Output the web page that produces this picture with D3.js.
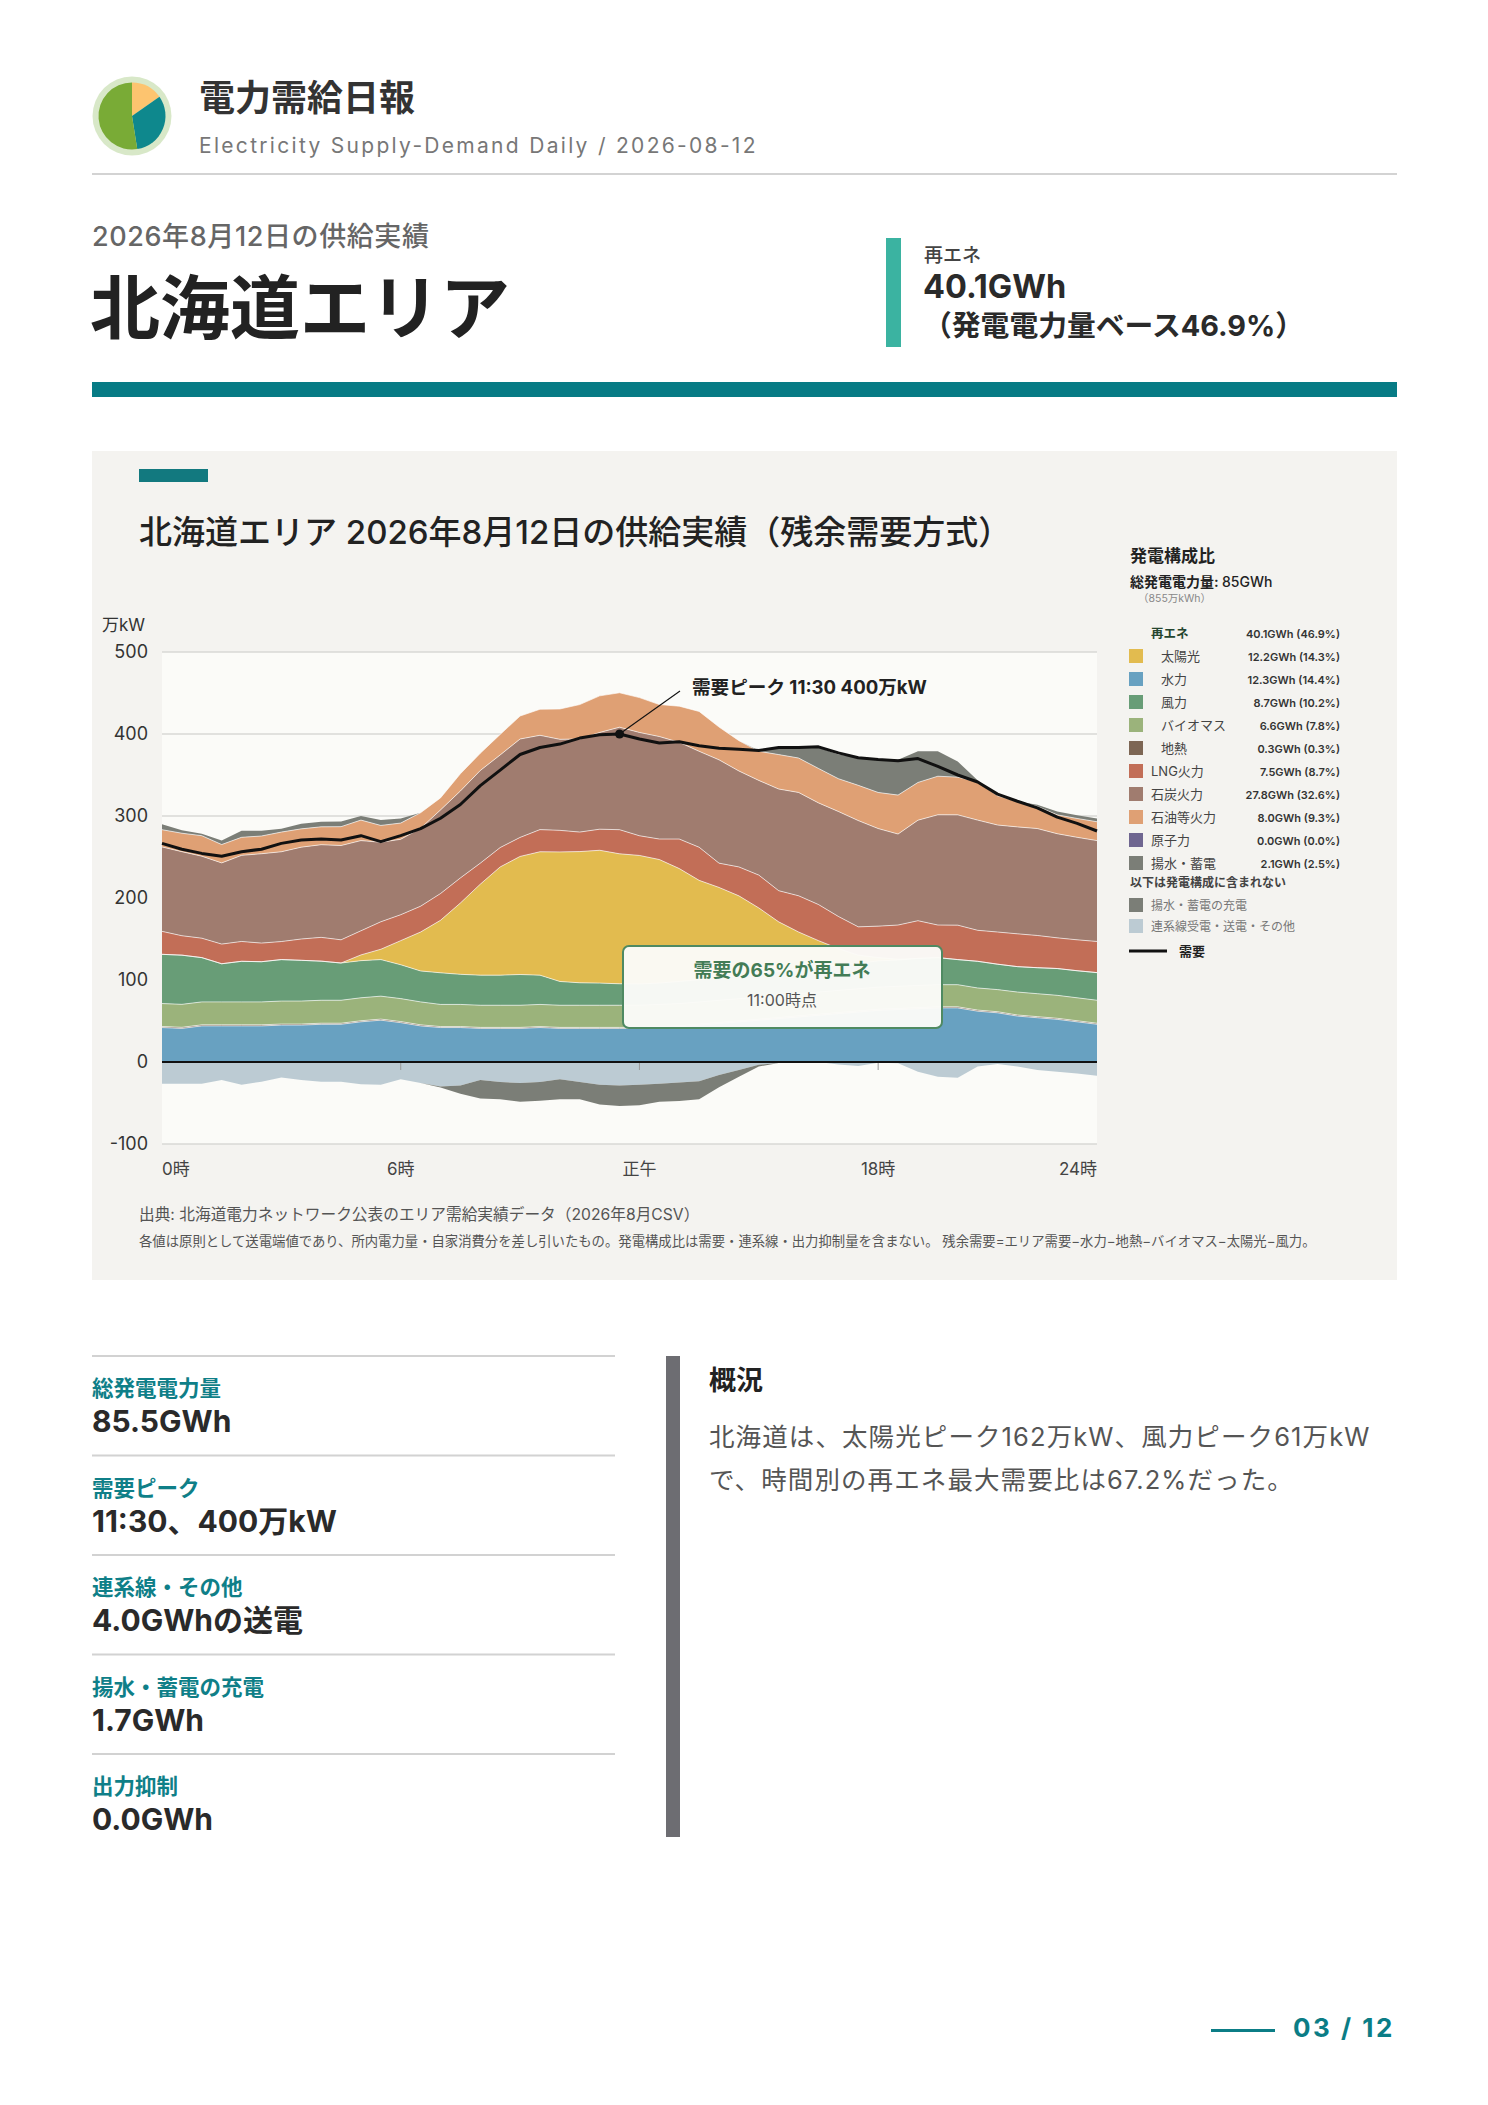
<!DOCTYPE html>
<html><head><meta charset="utf-8">
<script src="https://cdn.jsdelivr.net/npm/d3@7"></script>
<style>
body{margin:0;background:#fff}
svg{display:block}
text{font-family:Inter,"Noto Sans CJK JP","Noto Sans",sans-serif}
</style>
</head><body>
<svg id="c" width="1488" height="2105"></svg>
<script>
// ---------- DATA ----------
const times = ["0:00","0:30","1:00","1:30","2:00","2:30","3:00","3:30","4:00","4:30","5:00","5:30",
"6:00","6:30","7:00","7:30","8:00","8:30","9:00","9:30","10:00","10:30","11:00","11:30",
"12:00","12:30","13:00","13:30","14:00","14:30","15:00","15:30","16:00","16:30","17:00","17:30",
"18:00","18:30","19:00","19:30","20:00","20:30","21:00","21:30","22:00","22:30","23:00","23:30"];

const hydro = [42,41,44,44,44,44,45,45,46,46,49,51,48,44,42,42,41,41,41,42,41,41,41,41,
41,42,43,45,47,49,51,53,55,57,59,61,63,64,65,66,66,62,60,56,54,52,49,46];
const geothermal = [1.3,1.3,1.3,1.3,1.3,1.3,1.3,1.3,1.3,1.3,1.3,1.3,1.3,1.3,1.2,1.2,1.2,1.2,1.2,1.2,1.2,1.2,1.2,1.2,
1.2,1.2,1.2,1.2,1.2,1.2,1.2,1.2,1.3,1.3,1.3,1.3,1.3,1.3,1.3,1.3,1.3,1.3,1.3,1.3,1.3,1.3,1.3,1.3];
const biomass = [28,28,28,28,28,28,28,28,28,28,28,28,28,28,27,27,27,27,27,27,27,27,27,27,
27,27,27,27,27,27,27,27,27,27,27,27,27,27,27,27,27,27,27,28,28,28,28,28];
const wind = [60,60,54,46.5,49.5,49,50.6,49.7,47.7,45.4,45.3,44.6,41.3,37.7,38.6,36.7,36.7,36.7,37.5,35.7,29,27.4,27,26.2,
26,26,27,27,28,28,29,29,30,30,31,31,32,32,33,33,30.6,32.5,31,31,31.7,32.7,33,33.7];
const solar = [0,0,0,0,0,0,0,0,0,0,7,12.6,29.4,47.5,64,87,111,132,144,150.5,158,160,162,158.5,
156.7,150.7,137.7,121.3,109.7,97.4,79.7,60.7,45.2,32.7,20,10,4,1,0,0,0,0,0,0,0,0,0,0];
const lng = [28,23.7,23.7,24,24.2,22.7,22,26,29,28.3,29.4,33.5,31.6,31.5,32.6,30.6,25.6,23.6,23.2,27,26.3,23.8,25.7,29.4,
24,25,36,40.4,29.6,35.3,40,38,44.2,44,39.2,34.5,38.4,41.7,46,39.7,42,37.8,39.2,40,39.3,37.4,37.7,38];
const coal = [103,102.5,100,99,105,109,109.5,112,113,115,110,97,92,95,102,106,113,113,120,115,111,113.5,118,125,
126,125,118,117,126,117,115.5,124,126,124,128,129.6,119,111,122.6,134.5,134.5,134.4,130.5,130.4,130.4,127,125,123];
const oil = [21,22.5,25,22.4,22,21.6,24,22.3,21.8,23,25,20.5,19.8,19,14.7,21,21,25,28,31.8,37,42,44.6,42,
42.5,39,44,48.6,40,37,35.5,42,42,42,40,43,44,47.5,46,47,46,46.5,35.6,31,27,23,23,23];
const nuclear = [0,0,0,0,0,0,0,0,0,0,0,0,0,0,0,0,0,0,0,0,0,0,0,0,
0,0,0,0,0,0,0,0,0,0,0,0,0,0,0,0,0,0,0,0,0,0,0,0];
const pumpedGen = [6.6,3.5,2.5,5,8,6.5,4,6.3,6.3,6.3,5,6.5,5.5,0,0,0,0,0,0,0,0,0,0,0,
0,0,0,0,0,0,1,8.5,12.6,25.6,29.4,34,40,43,38,30.4,19,2,0,0,2,4,4,4];
const interconnect = [26.5,26.5,26.5,22,27.8,24,19,22,24,24,27,27.8,21,25.6,30,28.6,22,24.4,25.6,24.4,21,24.4,27.8,28.6,
27.8,26.5,25,23.5,16,9.7,3.4,1.3,0,0,3,5,1,1.5,11.8,18,19.3,5.5,2.5,5.5,9.7,11.8,13.9,16.8];
const pumpedCharge = [0,0,0,0,0,0,0,0,0,0,0,0,0,0,1,10,22.6,21,23,23,24.4,21,24,25,
25,22,22.5,22,14.7,8.3,2,0,0,0,0,0,0,0,0,0,0,0,0,0,0,0,0,0];
const demand = [266.6,259.5,254.4,251,256.5,259.5,266.6,270.8,272,270.8,276,268.7,276,284.7,297.3,314,337,356,375,383.5,387.7,395,399,400,
394,389,390.6,385.6,382.6,381.4,380,383.5,383.5,384.3,377,371,368.8,367.5,370,360.4,350,341.5,326.7,318,310,298.6,291,281.7];

const yTicks = [-100,0,100,200,300,400,500];
const xTickIdx = [0,12,24,36,47];
const xTickLabels = ["0時","6時","正午","18時","24時"];

const legendNames = ["太陽光","水力","風力","バイオマス","地熱","LNG火力","石炭火力","石油等火力","原子力","揚水・蓄電"];
const legendValues = ["12.2GWh (14.3%)","12.3GWh (14.4%)","8.7GWh (10.2%)","6.6GWh (7.8%)","0.3GWh (0.3%)",
"7.5GWh (8.7%)","27.8GWh (32.6%)","8.0GWh (9.3%)","0.0GWh (0.0%)","2.1GWh (2.5%)"];
const legendIndent = [1,1,1,1,1,0,0,0,0,0];
const legendColors = ["#e2bb4f","#68a1c1","#689d77","#9bb37b","#7d6654","#c26e57","#a07c6f","#dfa074","#6f6690","#7b7e77"];
const excludedNames = ["揚水・蓄電の充電","連系線受電・送電・その他"];
const excludedColors = ["#7b7e77","#bccbd3"];

const statLabels = ["総発電電力量","需要ピーク","連系線・その他","揚水・蓄電の充電","出力抑制"];
const statValues = ["85.5GWh","11:30、400万kW","4.0GWhの送電","1.7GWh","0.0GWh"];
const summaryLines = ["北海道は、太陽光ピーク162万kW、風力ピーク61万kW","で、時間別の再エネ最大需要比は67.2%だった。"];
const logoShares = [0.153,0.322,0.525];
const logoColors = ["#fdc46f","#0e888d","#79ab36"];

// ---------- DRAW ----------
const svg = d3.select("#c");
const L = 92, W = 1305;

// Header logo
const logo = svg.append("g").attr("transform","translate(132,116)");
logo.append("circle").attr("r",39.5).attr("fill","#d8e8c8");
const pie = d3.pie().sort(null)(logoShares);
logo.selectAll("path").data(pie).join("path")
  .attr("d", d3.arc().innerRadius(0).outerRadius(33.5))
  .attr("fill",(d,i)=>logoColors[i]);

svg.append("text").attr("x",199).attr("y",111).attr("font-size",36).attr("font-weight",700)
  .attr("fill","#333").text("電力需給日報");
svg.append("text").attr("x",199).attr("y",153).attr("font-size",21).attr("letter-spacing",2.3)
  .attr("fill","#777").text("Electricity Supply-Demand Daily / 2026-08-12");
svg.append("rect").attr("x",L).attr("y",173).attr("width",W).attr("height",2).attr("fill","#d3d3d3");

svg.append("text").attr("x",L).attr("y",246).attr("font-size",27).attr("letter-spacing",0.6)
  .attr("font-weight",500).attr("fill","#666").text("2026年8月12日の供給実績");
svg.append("text").attr("x",90).attr("y",334).attr("font-size",70).attr("font-weight",700)
  .attr("fill","#222").text("北海道エリア");

svg.append("rect").attr("x",886).attr("y",238).attr("width",15).attr("height",109).attr("fill","#3bb3a1");
svg.append("text").attr("x",924).attr("y",262).attr("font-size",19).attr("font-weight",500)
  .attr("fill","#444").text("再エネ");
svg.append("text").attr("x",923).attr("y",298).attr("font-size",32.5).attr("font-weight",700)
  .attr("fill","#2a2a2a").text("40.1GWh");
svg.append("text").attr("x",923).attr("y",336).attr("font-size",28.8).attr("font-weight",700)
  .attr("fill","#2a2a2a").text("（発電電力量ベース46.9%）");

svg.append("rect").attr("x",L).attr("y",382).attr("width",W).attr("height",15).attr("fill","#077b85");

// Chart panel
svg.append("rect").attr("x",L).attr("y",451).attr("width",W).attr("height",829).attr("fill","#f4f3f0");
svg.append("rect").attr("x",139).attr("y",469).attr("width",69).attr("height",13).attr("fill","#12797f");
svg.append("text").attr("x",139).attr("y",544).attr("font-size",33).attr("font-weight",500)
  .attr("fill","#222").text("北海道エリア 2026年8月12日の供給実績（残余需要方式）");

const x = d3.scaleLinear().domain([0, times.length-1]).range([162,1097]);
const y = d3.scaleLinear().domain([-100,500]).range([1144,652]);

svg.append("rect").attr("x",x(0)).attr("y",y(500)).attr("width",x(47)-x(0)).attr("height",y(-100)-y(500))
  .attr("fill","#fbfbf8");
svg.append("g").selectAll("line").data(yTicks).join("line")
  .attr("x1",x(0)).attr("x2",x(47)).attr("y1",d=>y(d)).attr("y2",d=>y(d))
  .attr("stroke","#d9d9d6").attr("stroke-width",1.5);

const posKeys = ["hydro","geothermal","biomass","wind","solar","lng","coal","oil","nuclear","pumpedGen"];
const negKeys = ["interconnect","pumpedCharge"];
const colors = {hydro:"#68a1c1",geothermal:"#7d6654",biomass:"#9bb37b",wind:"#689d77",solar:"#e2bb4f",lng:"#c26e57",
  coal:"#a07c6f",oil:"#dfa074",nuclear:"#6f6690",pumpedGen:"#7b7e77",interconnect:"#bccbd3",pumpedCharge:"#7b7e77"};
const rows = times.map((t,i)=>({i, hydro:hydro[i], geothermal:geothermal[i], biomass:biomass[i], wind:wind[i],
  solar:solar[i], lng:lng[i], coal:coal[i], oil:oil[i], nuclear:nuclear[i], pumpedGen:pumpedGen[i],
  interconnect:-interconnect[i], pumpedCharge:-pumpedCharge[i]}));
const posSeries = d3.stack().keys(posKeys)(rows);
const negSeries = d3.stack().keys(negKeys)(rows);
const area = d3.area().x((d,i)=>x(i)).y0(d=>y(d[0])).y1(d=>y(d[1]));
svg.append("g").selectAll("path").data(negSeries).join("path")
  .attr("d",area).attr("fill",d=>colors[d.key]);
svg.append("g").selectAll("path").data(posSeries).join("path")
  .attr("d",area).attr("fill",d=>colors[d.key]);
const topLine = d3.line().x((d,i)=>x(i)).y(d=>y(d[1]));
svg.append("g").selectAll("path").data(posSeries.slice(0,8)).join("path")
  .attr("d",topLine).attr("fill","none").attr("stroke","#ffffff").attr("stroke-opacity",0.7).attr("stroke-width",0.9);

// zero line & ticks
svg.append("line").attr("x1",x(0)).attr("x2",x(47)).attr("y1",y(0)).attr("y2",y(0))
  .attr("stroke","#111").attr("stroke-width",2.2);
svg.append("g").selectAll("line").data(xTickIdx.slice(1,4)).join("line")
  .attr("x1",d=>x(d)).attr("x2",d=>x(d)).attr("y1",y(0)+1).attr("y2",y(0)+8)
  .attr("stroke","#999").attr("stroke-width",1);

// demand line
svg.append("path").datum(demand)
  .attr("d", d3.line().x((d,i)=>x(i)).y(d=>y(d)))
  .attr("fill","none").attr("stroke","#111").attr("stroke-width",3).attr("stroke-linejoin","round");

// axes labels
svg.append("g").selectAll("text").data(yTicks).join("text")
  .attr("x",148).attr("y",d=>y(d)).attr("dy","0.36em").attr("text-anchor","end")
  .attr("font-size",18).attr("fill","#333").text(d=>d);
svg.append("text").attr("x",102).attr("y",631).attr("font-size",17).attr("fill","#333").text("万kW");
svg.append("g").selectAll("text").data(xTickIdx).join("text")
  .attr("x",d=>x(d)).attr("y",1175)
  .attr("text-anchor",(d,i)=>i===0?"start":(i===xTickIdx.length-1?"end":"middle"))
  .attr("font-size",17).attr("fill","#444").text((d,i)=>xTickLabels[i]);

// peak annotation
const peakI = demand.indexOf(d3.max(demand));
svg.append("line").attr("x1",x(peakI)).attr("y1",y(demand[peakI])).attr("x2",680).attr("y2",691)
  .attr("stroke","#111").attr("stroke-width",1.1);
svg.append("circle").attr("cx",x(peakI)).attr("cy",y(demand[peakI])).attr("r",4.5).attr("fill","#111");
svg.append("text").attr("x",692).attr("y",694).attr("font-size",18.6).attr("font-weight",700)
  .attr("fill","#222").text("需要ピーク 11:30 400万kW");

// renewable share box
svg.append("rect").attr("x",623).attr("y",946).attr("width",319).attr("height",82).attr("rx",6)
  .attr("fill","#fbfbf8").attr("fill-opacity",0.97).attr("stroke","#4f8a62").attr("stroke-width",2);
svg.append("text").attr("x",782).attr("y",977).attr("text-anchor","middle").attr("font-size",19)
  .attr("font-weight",700).attr("fill","#437c56").text("需要の65%が再エネ");
svg.append("text").attr("x",782).attr("y",1006).attr("text-anchor","middle").attr("font-size",16)
  .attr("fill","#555").text("11:00時点");

// legend
const lg = svg.append("g");
lg.append("text").attr("x",1130).attr("y",562).attr("font-size",17).attr("font-weight",700).attr("fill","#222").text("発電構成比");
const tt = lg.append("text").attr("x",1130).attr("y",587).attr("font-size",14).attr("fill","#222");
tt.append("tspan").attr("font-weight",700).text("総発電電力量: ");
tt.append("tspan").attr("font-weight",500).text("85GWh");
lg.append("text").attr("x",1138).attr("y",602).attr("font-size",10.5).attr("fill","#888").text("（855万kWh）");
lg.append("text").attr("x",1151).attr("y",638).attr("font-size",12.5).attr("font-weight",700).attr("fill","#24452f").text("再エネ");
lg.append("text").attr("x",1340).attr("y",638).attr("text-anchor","end").attr("font-size",11).attr("font-weight",600).attr("fill","#333").text("40.1GWh (46.9%)");
const rowY = i => 656 + i*23;
legendNames.forEach((n,i)=>{
  lg.append("rect").attr("x",1129).attr("y",rowY(i)-7).attr("width",14).attr("height",14).attr("fill",legendColors[i]);
  lg.append("text").attr("x",legendIndent[i]?1161:1151).attr("y",rowY(i)+5).attr("font-size",13).attr("fill","#444").text(n);
  lg.append("text").attr("x",1340).attr("y",rowY(i)+4.5).attr("text-anchor","end").attr("font-size",11)
    .attr("font-weight",600).attr("fill","#333").text(legendValues[i]);
});
lg.append("text").attr("x",1130).attr("y",887).attr("font-size",12).attr("font-weight",700).attr("fill","#444").text("以下は発電構成に含まれない");
excludedNames.forEach((n,i)=>{
  const cy = 905 + i*21;
  lg.append("rect").attr("x",1129).attr("y",cy-7).attr("width",14).attr("height",14).attr("fill",excludedColors[i]);
  lg.append("text").attr("x",1151).attr("y",cy+4.5).attr("font-size",12).attr("fill","#777").text(n);
});
lg.append("line").attr("x1",1129).attr("x2",1167).attr("y1",951).attr("y2",951).attr("stroke","#111").attr("stroke-width",3);
lg.append("text").attr("x",1179).attr("y",956).attr("font-size",13).attr("font-weight",700).attr("fill","#222").text("需要");

// source notes
svg.append("text").attr("x",139).attr("y",1220).attr("font-size",15.7).attr("fill","#555")
  .text("出典: 北海道電力ネットワーク公表のエリア需給実績データ（2026年8月CSV）");
svg.append("text").attr("x",139).attr("y",1246).attr("font-size",13.35).attr("fill","#555")
  .text("各値は原則として送電端値であり、所内電力量・自家消費分を差し引いたもの。発電構成比は需要・連系線・出力抑制量を含まない。 残余需要=エリア需要−水力−地熱−バイオマス−太陽光−風力。");

// stats
statLabels.forEach((l,i)=>{
  const top = 1356 + i*99.5;
  svg.append("rect").attr("x",L).attr("y",top-1).attr("width",523).attr("height",2).attr("fill","#d2d2d2");
  svg.append("text").attr("x",L).attr("y",top+40).attr("font-size",21.5).attr("font-weight",700).attr("fill","#0f7f88").text(l);
  svg.append("text").attr("x",L).attr("y",top+76).attr("font-size",30).attr("font-weight",700).attr("fill","#2a2a2a").text(statValues[i]);
});

svg.append("rect").attr("x",666).attr("y",1356).attr("width",14).attr("height",481).attr("fill","#6d6d72");
svg.append("text").attr("x",709).attr("y",1390).attr("font-size",27).attr("font-weight",700).attr("fill","#222").text("概況");
summaryLines.forEach((s,i)=>{
  svg.append("text").attr("x",709).attr("y",1446+i*43).attr("font-size",25.5).attr("letter-spacing",1.1)
    .attr("fill","#555").text(s);
});

// footer
svg.append("rect").attr("x",1211).attr("y",2029).attr("width",64).attr("height",3).attr("fill","#0b7d86");
svg.append("text").attr("x",1293).attr("y",2037).attr("font-size",26).attr("font-weight",700)
  .attr("letter-spacing",2.5).attr("fill","#0b7d86").text("03 / 12");
</script>
</body></html>
